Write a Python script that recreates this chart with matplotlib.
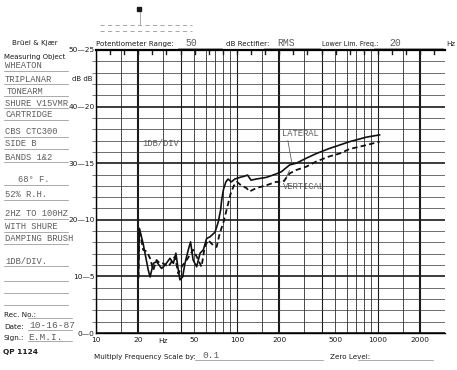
import numpy as np
import matplotlib.pyplot as plt
from matplotlib.lines import Line2D
from matplotlib.ticker import NullLocator

'''recorded response, read against the left dB scale (0..50)'''
lateral_hz = [20, 20.3, 21.6, 23.5, 24.2, 25.5, 26.9, 29.2, 30.9, 33.5, 35.4, 36.9, 38.4, 39.4,
              41.2, 42.8, 45.2, 46.9, 48.9, 51.8, 54.8, 57.8, 61.0, 64.5, 69.9, 73.7, 76.6, 78,
              80.2, 83.5, 86.6, 91.5, 96.6, 105, 113, 119, 126, 137, 162, 190, 207, 237, 264,
              312, 366, 453, 535, 630, 829, 1030]
lateral_db = [9.8, 18.5, 15.8, 11.1, 9.9, 12.3, 12.6, 11.4, 12.0, 13.2, 12.3, 14.1, 11.1, 9.4,
              9.9, 12.3, 14.7, 16.1, 12.9, 11.7, 14.1, 14.7, 16.7, 17.0, 17.8, 19.6, 21.7, 23.5,
              25.3, 26.7, 27.2, 26.7, 27.2, 27.5, 27.7, 27.9, 27.0, 27.2, 27.5, 28.1, 28.5, 29.7,
              30.0, 30.9, 31.7, 32.6, 33.2, 33.8, 34.6, 35.0]

vertical_hz = [20, 20.3, 21.6, 22.9, 24.2, 25.5, 26.9, 28.4, 30.0, 32.6, 34.4, 36.3, 38.4, 40.5,
               44.0, 46.4, 48.9, 51.8, 56.1, 59.1, 62.5, 67.9, 71.8, 75.5, 80.2, 85, 90, 95, 100,
               107, 117, 123, 137, 162, 190, 213, 237, 264, 312, 366, 453, 535, 630, 829, 1030]
vertical_db = [9.8, 18.5, 14.7, 14.4, 13.2, 11.1, 12.9, 12.3, 12.3, 11.7, 12.6, 13.5, 10.5, 11.7,
               12.9, 13.8, 14.7, 13.5, 11.7, 15.2, 16.4, 15.5, 15.2, 17.6, 19.5, 22.0, 24.5, 26.0,
               26.7, 26.1, 25.6, 25.0, 25.6, 26.1, 26.7, 26.7, 28.2, 28.8, 29.4, 30.3, 31.2, 31.7,
               32.5, 33.2, 33.8]

freq_ticks = [10, 20, 50, 100, 200, 500, 1000, 2000]
freq_labels = ["10", "20", "50", "100", "200", "500", "1000", "2000"]
db_left = [0, 10, 20, 30, 40, 50]
db_right = [0, 5, 10, 15, 20, 25]

notes = ["WHEATON", "TRIPLANAR", "TONEARM", "SHURE V15VMR", "CARTRIDGE",
         "CBS CTC300", "SIDE B", "BANDS 1&2", "68° F.", "52% R.H.",
         "2HZ TO 100HZ", "WITH SHURE", "DAMPING BRUSH", "1DB/DIV."]
notes_y = [66, 79, 91, 103, 115, 132, 144, 157, 180, 195, 214, 227, 239, 261]
notes_x = [5, 5, 7, 5, 5, 5, 5, 5, 18, 5, 5, 5, 5, 5]

W, H = 457, 370
INK = "#1a1a1a"
TYPE = "#5e5e5e"
MONO = "Liberation Mono"


def fx(px):
    return px / W


def fy(py):
    return 1 - py / H


fig = plt.figure(figsize=(W / 100, H / 100), dpi=100)
fig.patch.set_facecolor("white")
ax = fig.add_axes([fx(96), fy(333), (445 - 96) / W, (333 - 50) / H])
ax.set_xscale("log")
ax.set_xlim(10, 3000)
ax.set_ylim(0, 50)

'''chart paper grid'''
for dec in [10, 100, 1000]:
    for m in [1, 1.5, 2, 3, 4, 5, 6, 7, 8, 9]:
        f = dec * m
        if f >= 3000:
            continue
        lw = 1.5 if m == 2 else (0.8 if m in (1, 4) else 0.55)
        ax.axvline(f, color=INK, lw=lw, zorder=1)
for v in range(0, 51, 2):
    lw = 1.2 if v % 10 == 0 else 0.5
    ax.axhline(v, color="#333333" if v % 10 else INK, lw=lw, zorder=1)

ax.spines["right"].set_visible(False)
ax.spines["top"].set_linewidth(1.6)
ax.spines["left"].set_linewidth(1.0)
ax.spines["bottom"].set_linewidth(1.0)

'''paper sprocket marks along the top edge'''
for xa in np.arange(14, 350, 14.1) / 349:
    ax.plot([xa, xa], [0.986, 1.0], transform=ax.transAxes, color=INK, lw=1.0, clip_on=False)

ax.set_xticks(freq_ticks)
ax.set_xticklabels(freq_labels, fontsize=5.3, color=INK)
ax.xaxis.set_minor_locator(NullLocator())
ax.tick_params(axis="x", length=0, pad=3)
ax.set_yticks(db_left)
ax.set_yticklabels([f"{a}\u2014{b}" for a, b in zip(db_left, db_right)], fontsize=5.3, color=INK)
ax.set_yticks(np.arange(2, 50, 2), minor=True)
ax.tick_params(axis="y", which="major", length=0, pad=1)
ax.tick_params(axis="y", which="minor", length=3, width=0.5, direction="out", color="#444444")

'''recorder traces'''
ax.plot(lateral_hz, lateral_db, color="#111111", lw=1.2, zorder=3)
ax.plot(vertical_hz, vertical_db, color="#111111", lw=1.3, ls=(0, (3, 1.8)), zorder=3)

ax.text(208, 35.2, "LATERAL", family=MONO, fontsize=6.3, color=TYPE, va="center")
ax.plot([230, 245], [34.0, 30.2], color=TYPE, lw=0.6)
ax.text(211, 25.8, "VERTICAL", family=MONO, fontsize=6.3, color=TYPE, va="center")
ax.plot([218, 236], [26.8, 28.7], color=TYPE, lw=0.6)
ax.text(21.5, 33.4, "1DB/DIV", family=MONO, fontsize=6.3, color=TYPE, va="center")

fig.text(fx(163), fy(341), "Hz", fontsize=5.3, color=INK, ha="center", va="center")
fig.text(fx(93), fy(79), "dB dB", fontsize=5, color=INK, ha="right", va="center")

'''header of the form'''
fig.text(fx(12), fy(43), "Brüel & Kjær", fontsize=5.1, color=INK, va="center")
fig.text(fx(96), fy(44), "Potentiometer Range:", fontsize=5.1, color=INK, va="center")
fig.text(fx(185), fy(43), "50", family=MONO, fontsize=7, color=TYPE, va="center")
fig.text(fx(226), fy(44), "dB Rectifier:", fontsize=5.1, color=INK, va="center")
fig.text(fx(277), fy(43), "RMS", family=MONO, fontsize=7, color=TYPE, va="center")
fig.text(fx(322), fy(44), "Lower Lim. Freq.:", fontsize=4.7, color=INK, va="center")
fig.text(fx(389), fy(43), "20", family=MONO, fontsize=7, color=TYPE, va="center")
fig.text(fx(446), fy(44), "Hz", fontsize=5.1, color=INK, va="center")
for x0, x1 in [(178, 222), (264, 320), (374, 443)]:
    fig.add_artist(Line2D([fx(x0), fx(x1)], [fy(48), fy(48)], color="#777777", lw=0.5))

'''pen marker above the paper'''
fig.add_artist(Line2D([fx(138.5)], [fy(8.5)], marker="s", ms=3, color=INK, lw=0))
fig.add_artist(Line2D([fx(140), fx(140)], [fy(12), fy(24)], color="#999999", lw=0.6))
for yy in [25, 31]:
    fig.add_artist(Line2D([fx(100), fx(192)], [fy(yy), fy(yy)], color="#999999", lw=0.6,
                          ls=(0, (5, 4))))

'''left form column'''
fig.text(fx(4), fy(57), "Measuring Object", fontsize=5, color=INK, va="center")
for txt, xx, yy in zip(notes, notes_x, notes_y):
    fig.text(fx(xx), fy(yy), txt, family=MONO, fontsize=6.3, color=TYPE, va="center")
for yy in notes_y + [276, 288, 300]:
    fig.add_artist(Line2D([fx(4), fx(68)], [fy(yy + 5), fy(yy + 5)], color="#888888", lw=0.5))

fig.text(fx(4), fy(315), "Rec. No.:", fontsize=5.2, color=INK, va="center")
fig.text(fx(4), fy(327), "Date:", fontsize=5.2, color=INK, va="center")
fig.text(fx(29), fy(325), "10-16-87", family=MONO, fontsize=6.8, color=TYPE, va="center")
fig.text(fx(4), fy(338), "Sign.:", fontsize=5.2, color=INK, va="center")
fig.text(fx(28), fy(337), "E.M.I.", family=MONO, fontsize=6.8, color=TYPE, va="center")
for yy in [318, 330, 341]:
    fig.add_artist(Line2D([fx(28), fx(72)], [fy(yy), fy(yy)], color="#888888", lw=0.5))
fig.text(fx(3), fy(352), "QP 1124", fontsize=5.3, color=INK, va="center", weight="bold")

'''footer'''
fig.text(fx(94), fy(357), "Multiply Frequency Scale by:", fontsize=5.1, color=INK, va="center")
fig.text(fx(202), fy(355), "0.1", family=MONO, fontsize=6.8, color=TYPE, va="center")
fig.text(fx(330), fy(357), "Zero Level:", fontsize=5.1, color=INK, va="center")
for x0, x1 in [(195, 323), (358, 433)]:
    fig.add_artist(Line2D([fx(x0), fx(x1)], [fy(360), fy(360)], color="#888888", lw=0.5))

fig.savefig("out.png", dpi=100, facecolor="white")
